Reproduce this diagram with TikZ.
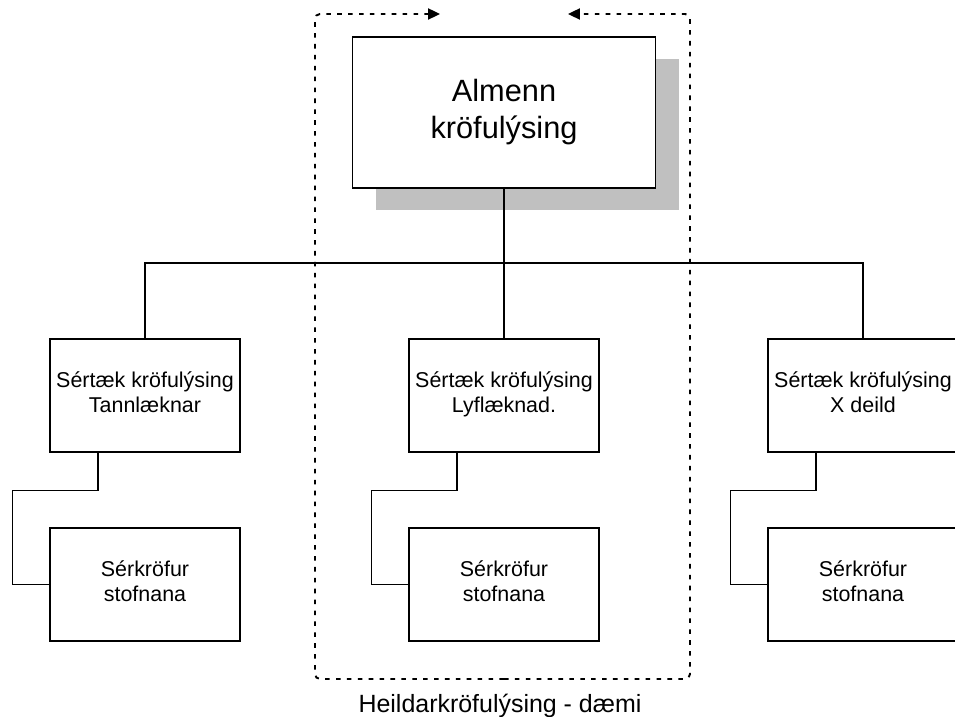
\documentclass[tikz,border=0pt]{standalone}
\usepackage{fontspec}
\setmainfont{Liberation Sans}
\usetikzlibrary{arrows.meta,shadows}
\definecolor{shadowgray}{RGB}{192,192,192}

\begin{document}
\begin{tikzpicture}[
  mainbox/.style={draw, line width=1.1pt, fill=white, inner sep=0pt, align=center,
    minimum width=6.06cm, minimum height=3.02cm, font=\fontsize{17.5}{21}\selectfont,
    general shadow={fill=shadowgray, opacity=1, shadow xshift=0.46cm, shadow yshift=-0.44cm}},
  deptbox/.style={draw, line width=1.1pt, fill=white, inner sep=0pt, align=center,
    minimum width=3.8cm, minimum height=2.26cm, font=\fontsize{12.2}{14.2}\selectfont,
    execute at end node={\strut}},
  link/.style={line width=0.6pt},
  frameline/.style={line width=1.1pt, dash pattern=on 2.6pt off 3.6pt, rounded corners=2.8pt,
    -{Triangle[length=6.8pt,width=6.3pt]}}
]
\useasboundingbox (0,0) rectangle (19.1,14.34);
% Nodes
\node[mainbox] (almenn) at (10.08,12.09) {Almenn\\kröfulýsing};
\node[deptbox] (tann) at (2.9,6.43) {Sértæk kröfulýsing\\Tannlæknar};
\node[deptbox] (lyf) at (10.08,6.43) {Sértæk kröfulýsing\\Lyflæknad.};
\node[deptbox] (xdeild) at (17.26,6.43) {Sértæk kröfulýsing\\X deild};
\node[deptbox] (subA) at (2.9,2.65) {Sérkröfur\\stofnana};
\node[deptbox] (subB) at (10.08,2.65) {Sérkröfur\\stofnana};
\node[deptbox] (subC) at (17.26,2.65) {Sérkröfur\\stofnana};
\node[font=\fontsize{14.2}{17}\selectfont, anchor=base] (caption) at (10.0,0.08) {Heildarkröfulýsing - dæmi};
% Lines
\coordinate (bus) at (10.08,9.08);
\draw[link] (almenn.south) -- (lyf.north);
\draw[link] (tann.north) |- (bus) -| (xdeild.north);
\foreach \d/\s in {tann/subA, lyf/subB, xdeild/subC}
  \draw[link] ([xshift=-0.94cm]\d.south) -- ++(0,-0.76) -| ([xshift=-0.74cm]\s.west) -- (\s.west);
% Frame
\coordinate (fbot) at (10.08,0.76);
\coordinate (ftl) at (6.3,14.06);
\coordinate (ftr) at (13.8,14.06);
\coordinate (tipL) at (8.8,14.06);
\coordinate (tipR) at (11.36,14.06);
\draw[frameline] (fbot) -| (ftl) -- (tipL);
\draw[frameline] (fbot) -| (ftr) -- (tipR);
\end{tikzpicture}
\end{document}
